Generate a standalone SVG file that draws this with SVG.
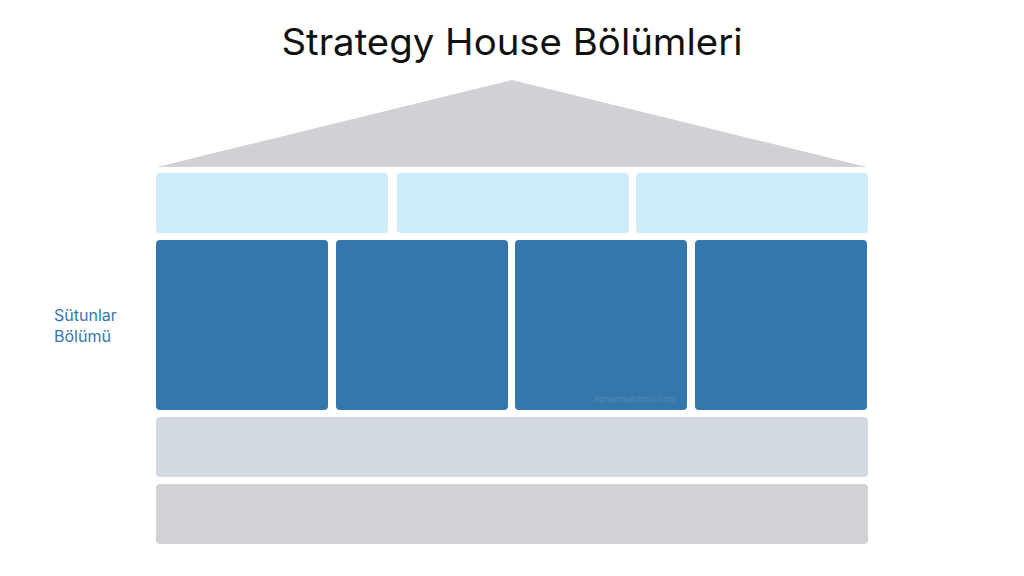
<svg xmlns="http://www.w3.org/2000/svg" width="1024" height="576" viewBox="0 0 1024 576">
<style>
.t{font-family:Inter,"Noto Sans","Liberation Sans",sans-serif}
.lb{fill:#CDEBF9}
.pl{fill:#3577AA}
</style>
<rect width="1024" height="576" fill="#fff"/>
<text class="t" x="512" y="55" text-anchor="middle" font-size="37" fill="#111" textLength="461" lengthAdjust="spacingAndGlyphs">Strategy House Bölümleri</text>
<g id="roof"><polygon points="157,167 512,80 867,167" fill="#CFD1D4"/></g>
<g id="top1"><rect class="lb" x="156" y="173" width="232" height="60" rx="4"/></g>
<g id="top2"><rect class="lb" x="397" y="173" width="232" height="60" rx="4"/></g>
<g id="top3"><rect class="lb" x="636" y="173" width="232" height="60" rx="4"/></g>
<g id="p1"><rect class="pl" x="156" y="240" width="172" height="170" rx="4"/></g>
<g id="p2"><rect class="pl" x="336" y="240" width="172" height="170" rx="4"/></g>
<g id="p3"><rect class="pl" x="515" y="240" width="172" height="170" rx="4"/></g>
<g id="p4"><rect class="pl" x="695" y="240" width="172" height="170" rx="4"/></g>
<text class="t" x="594" y="402" font-size="8.5" fill="#5288B5" textLength="82" lengthAdjust="spacingAndGlyphs">sunumsablonu.com</text>
<g id="base1"><rect x="156" y="417" width="712" height="60" rx="4" fill="#D3D9E0"/></g>
<g id="base2"><rect x="156" y="484" width="712" height="60" rx="4" fill="#D0D2D5"/></g>
<g id="label"><text class="t" font-size="16" fill="#3577AA"><tspan x="54" y="321">Sütunlar</tspan><tspan x="54" y="342">Bölümü</tspan></text></g>
<g id="connectors"/>
</svg>
